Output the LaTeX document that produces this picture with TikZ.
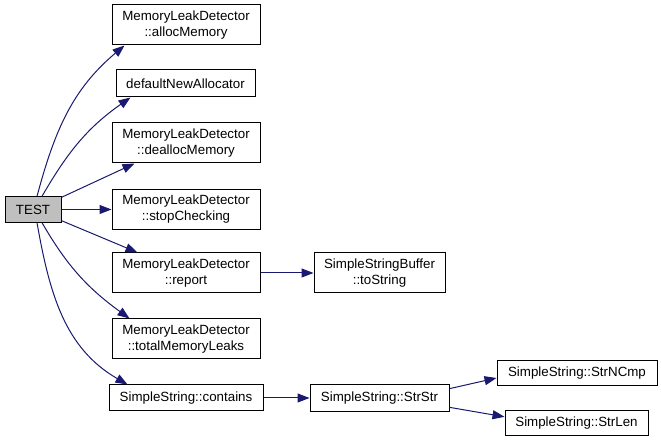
\documentclass[tikz,border=0pt]{standalone}
\usepackage{fontspec}
\setmainfont{Liberation Sans}
\usepackage{tikz}
\usetikzlibrary{arrows.meta}
\usepackage{xcolor}
\definecolor{edgeblue}{RGB}{25, 25, 112}
\definecolor{rootgray}{RGB}{191, 191, 191}

\begin{document}
\begin{tikzpicture}[x=0.75pt, y=0.75pt,
    fnbox/.style={draw=black, fill=white, line width=0.75pt, inner sep=0pt, align=center, font=\fontsize{10}{12}\selectfont},
    call/.style={-{Triangle[length=9pt,width=6.75pt]}, edgeblue, line width=0.75pt}]
  \useasboundingbox (0,0) rectangle (661,442);

  % caller
  \node[fnbox, fill=rootgray, minimum width=42pt, minimum height=19pt] (test) at (33, 232.5) {TEST};

  % direct callees
  \node[fnbox, minimum width=111pt, minimum height=30pt] (alloc) at (186, 417) {MemoryLeakDetector\\::allocMemory};
  \node[fnbox, minimum width=104.25pt, minimum height=20.25pt] (defnew) at (185.5, 358.5) {defaultNewAllocator};
  \node[fnbox, minimum width=111pt, minimum height=30pt] (dealloc) at (186, 299) {MemoryLeakDetector\\::deallocMemory};
  \node[fnbox, minimum width=111pt, minimum height=30pt] (stopchk) at (186, 232.5) {MemoryLeakDetector\\::stopChecking};
  \node[fnbox, minimum width=111pt, minimum height=30pt] (report) at (186, 169) {MemoryLeakDetector\\::report};
  \node[fnbox, minimum width=111pt, minimum height=30pt] (totalleaks) at (186, 103) {MemoryLeakDetector\\::totalMemoryLeaks};
  \node[fnbox, minimum width=115.5pt, minimum height=19.5pt] (contains) at (186, 44) {SimpleString::contains};

  % second level
  \node[fnbox, minimum width=98.25pt, minimum height=30pt] (tostring) at (379.5, 169) {SimpleStringBuffer\\::toString};
  \node[fnbox, minimum width=104.25pt, minimum height=20.25pt] (strstr) at (379.5, 44) {SimpleString::StrStr};
  \node[fnbox, minimum width=120pt, minimum height=18.75pt] (strncmp) at (577, 69) {SimpleString::StrNCmp};
  \node[fnbox, minimum width=107.25pt, minimum height=18.75pt] (strlen) at (576.5, 18.5) {SimpleString::StrLen};

  \draw[call] ([xshift=3pt]test.north) to[out=75, in=220] ([xshift=9.75pt]alloc.south west);
  \draw[call] ([xshift=6.75pt]test.north) to[out=60, in=215] ([xshift=11.25pt]defnew.south west);
  \draw[call] ([yshift=-0.75pt]test.north east) -- ([xshift=17.25pt]dealloc.south west);
  \draw[call] (test) -- (stopchk);
  \draw[call] ([yshift=1.5pt]test.south east) -- ([xshift=19.5pt]report.north west);
  \draw[call] ([xshift=6.75pt]test.south) to[out=-60, in=144] ([xshift=13.5pt]totalleaks.north west);
  \draw[call] ([xshift=3pt]test.south) to[out=-80, in=150] ([xshift=14.25pt]contains.north west);
  \draw[call] (report) -- (tostring);
  \draw[call] (contains) -- (strstr);
  \draw[call] ([yshift=7pt]strstr.east) -- ([yshift=-3.75pt]strncmp.west);
  \draw[call] ([yshift=-7pt]strstr.east) -- ([yshift=5pt]strlen.west);
\end{tikzpicture}
\end{document}
